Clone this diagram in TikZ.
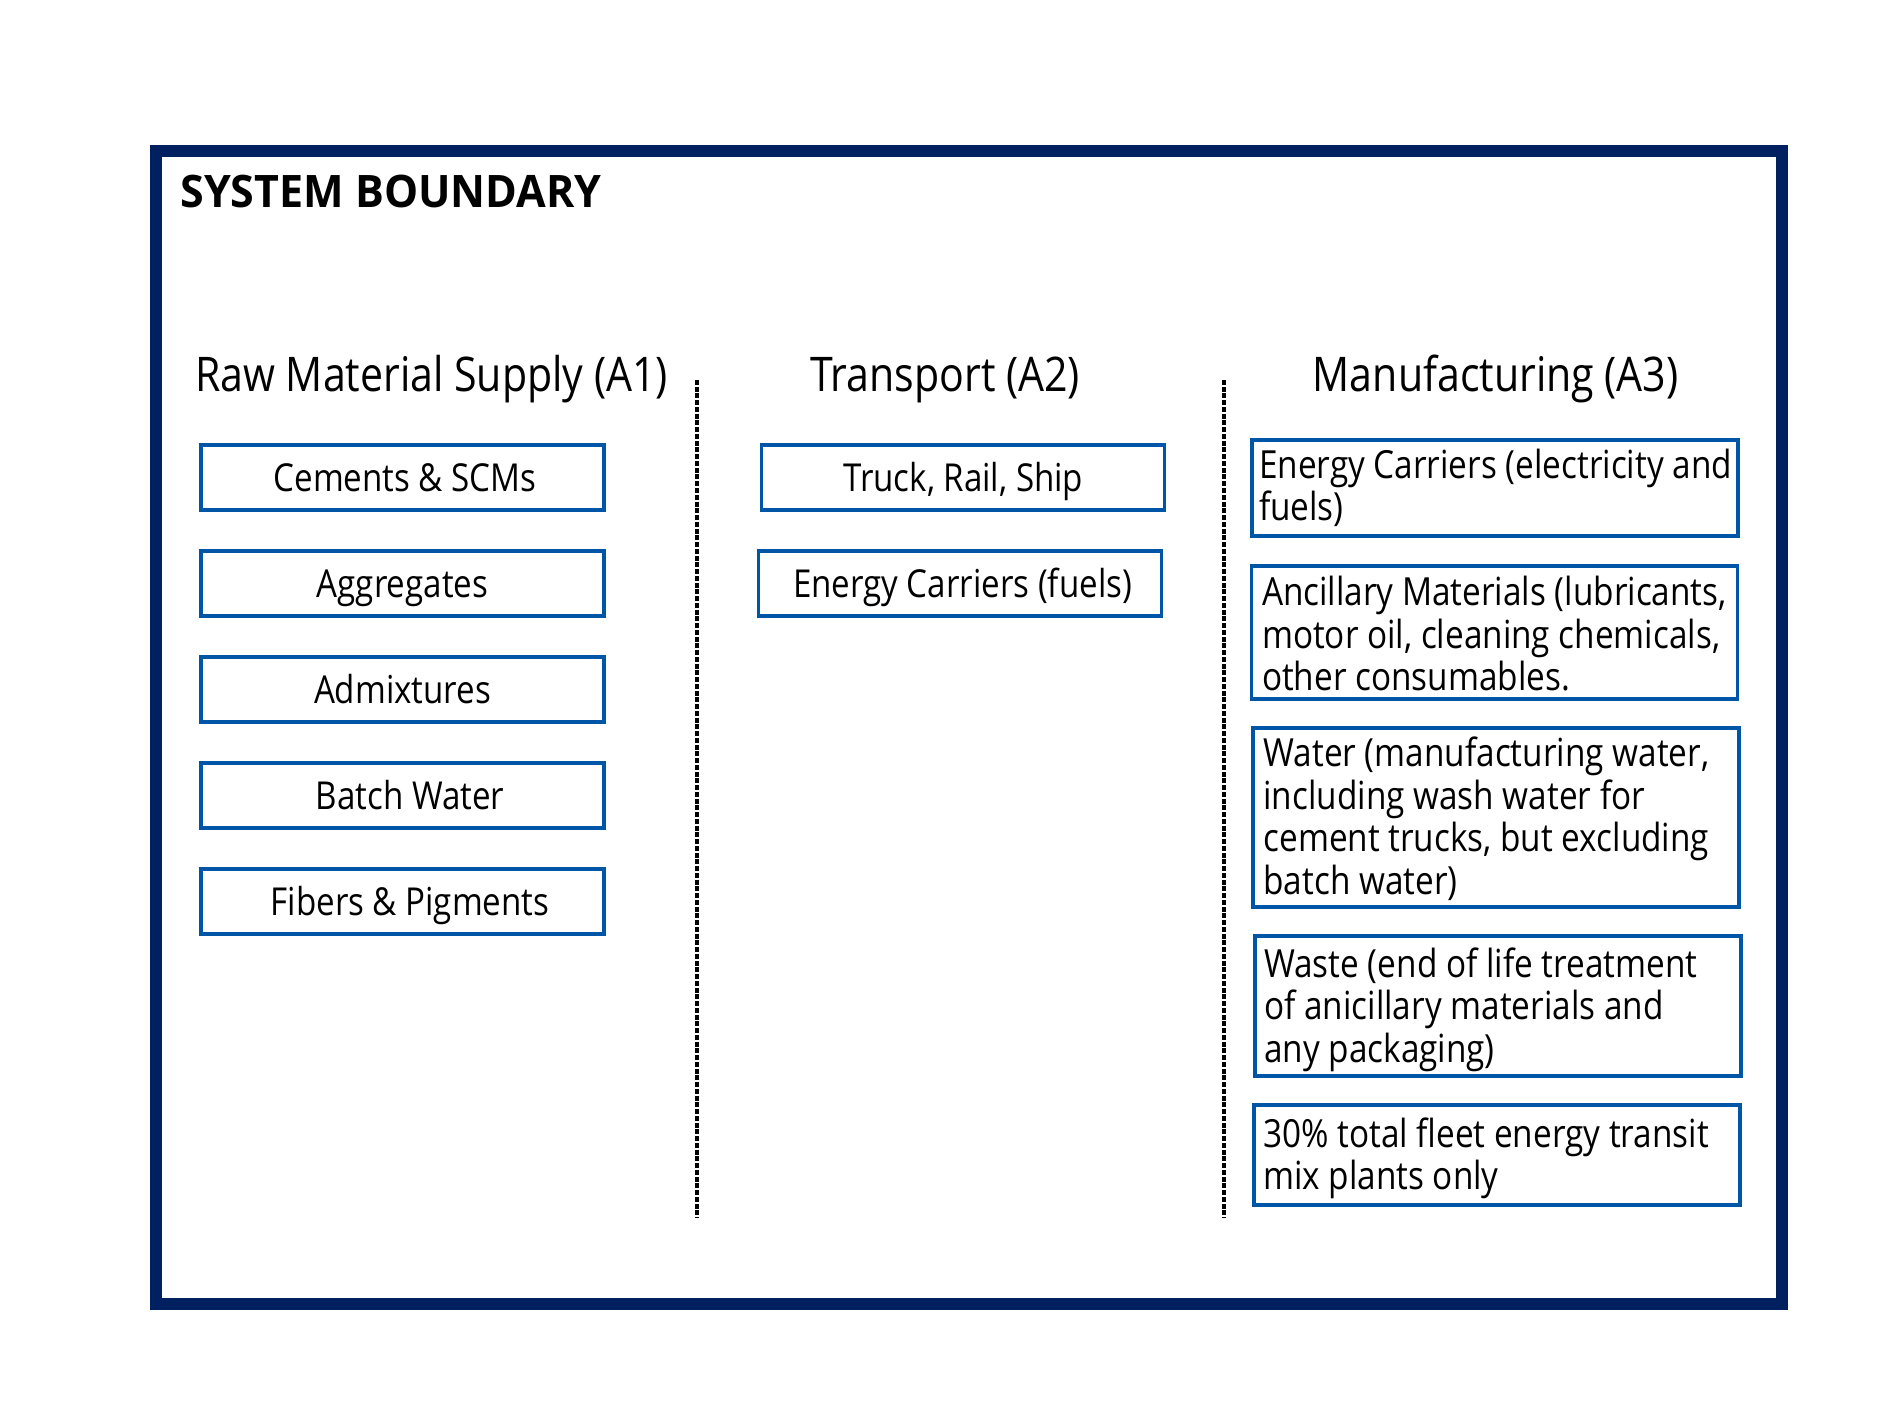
\documentclass[tikz,border=0pt]{standalone}
\usepackage{fontspec}
\setmainfont{Open Sans}[FakeStretch=0.86]
\newfontfamily\sbfont{Open Sans}[FakeStretch=0.96]
\definecolor{navy}{RGB}{0,32,96}
\definecolor{boxblue}{RGB}{0,86,166}
\tikzset{
  bluebox/.style={draw=boxblue, line width=1.3pt, outer sep=0pt, inner sep=0pt},
  lbox/.style={bluebox, minimum width=161.2pt, minimum height=26pt,
    font=\fontsize{15.4}{18}\selectfont, text height=10.9pt, text depth=0pt},
  rbox/.style={bluebox, minimum width=194.4pt},
  rtext/.style={anchor=west, inner sep=0pt, align=left,
    font=\fontsize{15.5}{17}\selectfont},
  head/.style={anchor=base, inner sep=0pt, font=\fontsize{19.1}{22}\selectfont},
  divider/.style={line width=1.3pt, dash pattern=on 2pt off 0.7pt},
}
\begin{document}
\begin{tikzpicture}[x=0.4pt, y=-0.4pt]
\useasboundingbox (0,0) rectangle (1890,1417);
% outer system boundary
\draw[navy, line width=4.8pt] (156,151) rectangle (1782,1304);
\node[anchor=base west, inner sep=0pt, font=\sbfont\bfseries\fontsize{17.9}{21}\selectfont] (title) at (180,208) {SYSTEM BOUNDARY};
% headings
\node[head] (hA1) at (431.6,391.7) {Raw Material Supply (A1)};
\node[head] (hA2) at (945,391.7) {Transport (A2)};
\node[head] (hA3) at (1495.7,391.7) {Manufacturing (A3)};
% dividers
\coordinate (d1t) at (697,380);
\coordinate (d1b) at (697,1218);
\coordinate (d2t) at (1224,380);
\coordinate (d2b) at (1224,1218);
\draw[divider] (d1t) -- (d1b);
\draw[divider] (d2t) -- (d2b);
% A1 boxes
\node[lbox] (a1) at (402.5,477.5) {\hspace{2pt}Cements \& SCMs};
\node[lbox] (a2) at (402.5,583.5) {Aggregates};
\node[lbox] (a3) at (402.5,689.5) {Admixtures};
\node[lbox] (a4) at (402.5,795.5) {\hspace{6pt}Batch Water};
\node[lbox] (a5) at (402.5,901.5) {\hspace{6pt}Fibers \& Pigments};
% A2 boxes
\node[lbox] (b1) at (963.3,477.5) {Truck, Rail, Ship};
\node[lbox] (b2) at (960,583.5) {\hspace{2pt}Energy Carriers (fuels)};
% A3 boxes
\node[rbox, minimum height=38.4pt] (c1) at (1495,488) {};
\node[rbox, minimum height=53.2pt] (c2) at (1494.5,632.5) {};
\node[rbox, minimum height=71.6pt] (c3) at (1496,817.5) {};
\node[rbox, minimum height=56pt] (c4) at (1498,1006) {};
\node[rbox, minimum height=40pt] (c5) at (1497,1155) {};
\node[rtext] (t1) at ([xshift=2.6pt]c1.west) {Energy Carriers (electricity and\\fuels)};
\node[rtext] (t2) at ([xshift=4pt, yshift=-0.6pt]c2.west) {Ancillary Materials (lubricants,\\motor oil, cleaning chemicals,\\other consumables.};
\node[rtext] (t3) at ([xshift=4pt, yshift=-0.5pt]c3.west) {Water (manufacturing water,\\including wash water for\\cement trucks, but excluding\\batch water)};
\node[rtext] (t4) at ([xshift=3.5pt, yshift=-1.5pt]c4.west) {Waste (end of life treatment\\of anicillary materials and\\any packaging)};
\node[rtext] (t5) at ([xshift=3.5pt, yshift=-1.4pt]c5.west) {30\% total fleet energy transit\\mix plants only};
\end{tikzpicture}
\end{document}
